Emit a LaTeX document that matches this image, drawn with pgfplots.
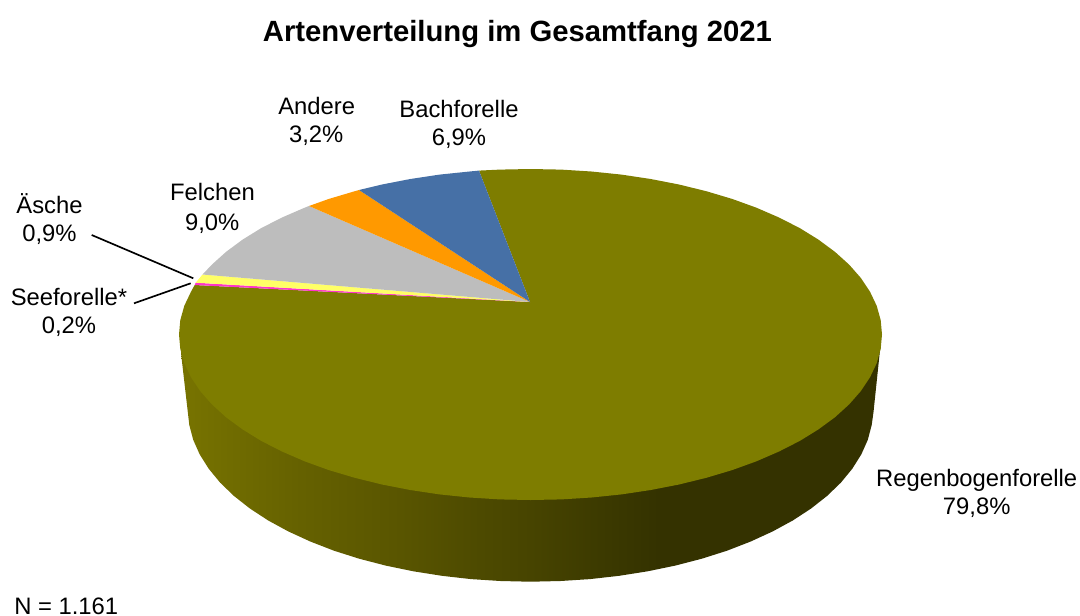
\documentclass[border=0pt]{standalone}
\usepackage{fontspec}
\setmainfont{Liberation Sans}
\usepackage{pgfplots}
\pgfplotsset{compat=1.18}

\definecolor{regen}{RGB}{126,125,0}
\definecolor{bach}{RGB}{70,112,166}
\definecolor{andere}{RGB}{255,153,0}
\definecolor{felchen}{RGB}{189,189,189}
\definecolor{aesche}{RGB}{255,255,102}
\definecolor{seef}{RGB}{255,51,204}

\definecolor{sa}{RGB}{118,114,0}
\definecolor{sb}{RGB}{101,97,0}
\definecolor{sc}{RGB}{89,85,0}
\definecolor{sd}{RGB}{77,74,0}
\definecolor{se}{RGB}{71,68,0}
\definecolor{sf}{RGB}{60,58,0}
\definecolor{sg}{RGB}{52,50,0}

% rim of the disc, dark towards the lower right
\pgfdeclarehorizontalshading{rim}{100bp}{
  color(0bp)=(sa); color(25.7bp)=(sa); color(33.6bp)=(sb); color(40.7bp)=(sc);
  color(46.4bp)=(sd); color(50bp)=(se); color(55bp)=(sf); color(59.2bp)=(sg);
  color(100bp)=(sg)}

\newcommand{\lab}[3]{\node[anchor=base,inner sep=0pt,font=\fontsize{17.85}{18}\selectfont] at (axis cs:#1,#2) {#3};}

\begin{document}
\begin{tikzpicture}
\useasboundingbox (0,0) rectangle (810pt,461.25pt);
\begin{axis}[
  at={(0,0)}, anchor=south west,
  scale only axis, width=810pt, height=461.25pt,
  xmin=0, xmax=1080, ymin=0, ymax=615, y dir=reverse,
  hide axis, clip=false,
]
% rim
\addplot[draw=none, shading=rim] coordinates {
 (880,335) (880,350) (873.5,412)
 (871.7,425.0) (867.8,439.8) (861.3,454.4) (852.3,468.7) (840.9,482.6) (827.1,495.9)
 (811.1,508.5) (792.9,520.4) (772.7,531.4) (750.7,541.5) (727.0,550.7) (701.8,558.7)
 (675.2,565.6) (647.6,571.3) (619.1,575.8) (590.0,579.1) (560.4,581.0) (530.5,581.7)
 (500.6,581.0) (471.0,579.1) (441.9,575.8) (413.4,571.3) (385.8,565.6) (359.2,558.7)
 (334.0,550.7) (310.3,541.5) (288.3,531.4) (268.1,520.4) (249.9,508.5) (233.9,495.9)
 (220.1,482.6) (208.7,468.7) (199.7,454.4) (193.2,439.8) (189.3,425.0) (181,353) (182,336)
} -- cycle;
% Regenbogenforelle 79,8 %
\addplot[draw=none, fill=regen] coordinates {
 (530,302) (479,170.6) (499.8,169.6) (530.5,169.0)
 (561.2,169.6) (591.5,171.5) (621.5,174.6) (650.7,179.0) (679.0,184.5) (706.3,191.2)
 (732.1,198.9) (756.4,207.7) (779.0,217.5) (799.8,228.1) (818.4,239.6) (834.9,251.8)
 (849.1,264.6) (860.8,277.9) (870.0,291.7) (876.7,305.8) (880.7,320.1) (882.0,334.5)
 (880.7,348.9) (876.7,363.2) (870.0,377.3) (860.8,391.1) (849.1,404.4) (834.9,417.3)
 (818.4,429.4) (799.8,440.9) (779.0,451.5) (756.4,461.3) (732.1,470.1) (706.3,477.8)
 (679.0,484.5) (650.7,490.0) (621.5,494.4) (591.5,497.5) (561.2,499.4) (530.5,500.0)
 (499.8,499.4) (469.5,497.5) (439.5,494.4) (410.3,490.0) (382.0,484.5) (354.8,477.8)
 (328.9,470.1) (304.6,461.3) (282.0,451.5) (261.2,440.9) (242.6,429.4) (226.1,417.3)
 (211.9,404.4) (200.2,391.1) (191.0,377.3) (184.3,363.2) (180.3,348.9) (179.0,334.5)
 (180.3,320.1) (184.3,305.8) (191.0,291.7) (194.7,285)
} -- cycle;
% Seeforelle 0,2 %
\addplot[draw=none, fill=seef] coordinates {(530,302) (194.7,285) (195.7,282.7)} -- cycle;
% Aesche 0,9 %
\addplot[draw=none, fill=aesche] coordinates {(530,302) (195.7,282.7) (202.5,274.5)} -- cycle;
% Felchen 9,0 %
\addplot[draw=none, fill=felchen] coordinates {
 (530,302) (202.5,274.5) (211.9,264.6) (226.1,251.8) (242.6,239.6) (261.2,228.1) (282.0,217.5)
 (304.6,207.7) (309,206)} -- cycle;
% Andere 3,2 %
\addplot[draw=none, fill=andere] coordinates {
 (530,302) (309,206) (328.9,198.9) (354.8,191.2) (359,190)} -- cycle;
% Bachforelle 6,9 %
\addplot[draw=none, fill=bach] coordinates {
 (530,302) (359,190) (382.0,184.5) (410.3,179.0) (439.5,174.6) (469.5,171.5) (479,170.6)} -- cycle;
% leader lines
\addplot[black, line width=1.25pt] coordinates {(91.7,235) (193.3,278.3)};
\addplot[black, line width=1.25pt] coordinates {(134,303.3) (190.7,283.3)};
% title and labels
\node[anchor=base,inner sep=0pt,font=\fontsize{21.95}{22}\selectfont\bfseries] at (axis cs:517.5,41) {Artenverteilung im Gesamtfang 2021};
\lab{316.7}{114}{Andere}
\lab{316.2}{142.5}{3,2\%}
\lab{459}{117}{Bachforelle}
\lab{459}{145}{6,9\%}
\lab{212.5}{200.7}{Felchen}
\lab{212.2}{230}{9,0\%}
\lab{49.5}{213.5}{Äsche}
\lab{49.5}{241.5}{0,9\%}
\lab{69}{305}{Seeforelle*}
\lab{69}{333}{0,2\%}
\lab{976.7}{486}{Regenbogenforelle}
\lab{976.7}{514}{79,8\%}
\node[anchor=base west,inner sep=0pt,font=\fontsize{17.85}{18}\selectfont] at (axis cs:14,614) {N = 1.161};
\end{axis}
\end{tikzpicture}
\end{document}
